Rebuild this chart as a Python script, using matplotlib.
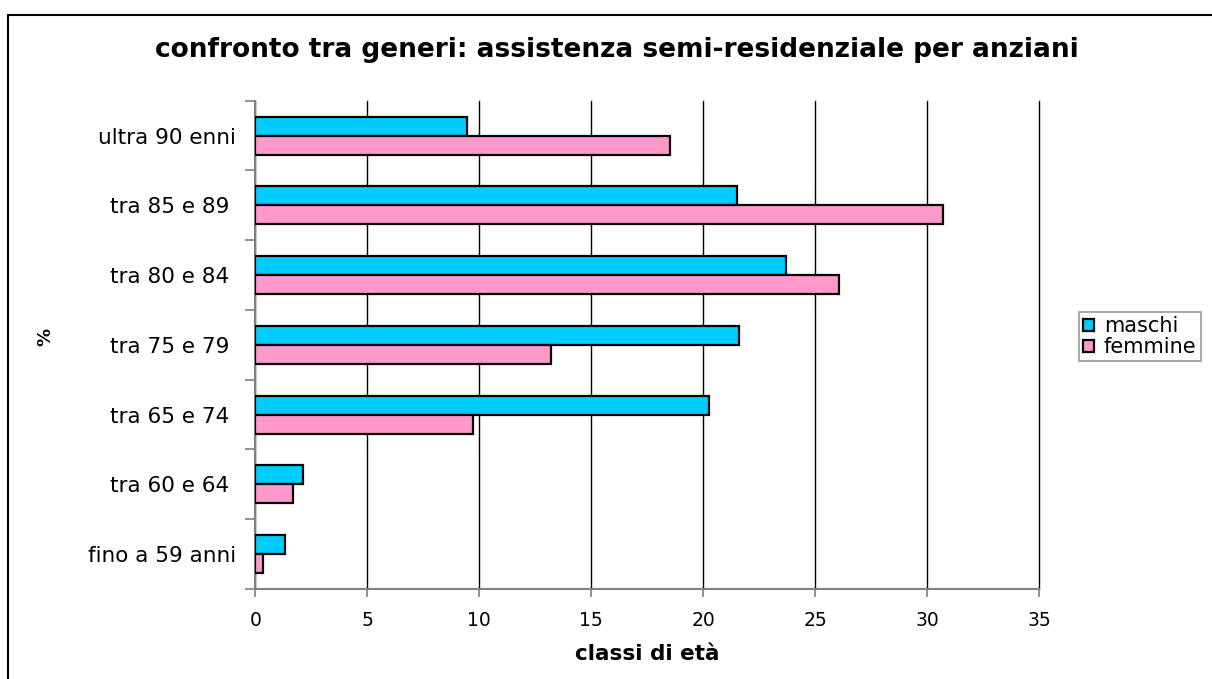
import matplotlib.pyplot as plt
from matplotlib.patches import Rectangle
import numpy as np

plt.rcParams['font.family'] = ['DejaVu Sans']

categories = ['fino a 59 anni', 'tra 60 e 64 ', 'tra 65 e 74 ', 'tra 75 e 79 ',
              'tra 80 e 84 ', 'tra 85 e 89 ', 'ultra 90 enni']
maschi = [1.34, 2.14, 20.25, 21.6, 23.7, 21.5, 9.45]
femmine = [0.33, 1.67, 9.7, 13.2, 26.05, 30.7, 18.5]
x_ticks = [0, 5, 10, 15, 20, 25, 30, 35]

W, H = 1212, 679
fig = plt.figure(figsize=(W / 100, H / 100), dpi=100)
ax = fig.add_axes([255.3 / W, 1 - 589 / H, (1039.3 - 255.3) / W, (589 - 100.7) / H])

y = np.arange(len(categories))
h = 0.273
ax.barh(y + h / 2, maschi, height=h, color='#00CCFF', edgecolor='black',
        linewidth=1.6, label='maschi', zorder=3)
ax.barh(y - h / 2, femmine, height=h, color='#FF99CC', edgecolor='black',
        linewidth=1.6, label='femmine', zorder=3)

ax.set_xlim(0, 35)
ax.set_ylim(-0.5, len(categories) - 0.5)
ax.set_xticks(x_ticks)
ax.set_xticklabels([str(t) for t in x_ticks], fontsize=13.5)
ax.xaxis.grid(True, color='black', linewidth=1.0, zorder=0)
for gl in ax.get_xgridlines():
    gl.set_clip_on(False)

# category labels centred, ticks on boundaries
ax.set_yticks(y)
ax.set_yticklabels(categories, fontsize=15.5)
ax.tick_params(axis='y', length=0, pad=14)
ax.set_yticks(np.arange(-0.5, len(categories)), minor=True)
ax.tick_params(axis='y', which='minor', length=7, color='#808080', width=1.2)
ax.tick_params(axis='x', length=6, color='#808080', width=1.2, pad=10)

for side in ['top', 'right']:
    ax.spines[side].set_visible(False)
for side in ['left', 'bottom']:
    ax.spines[side].set_color('#808080')
    ax.spines[side].set_linewidth(1.5)

ax.set_xlabel('classi di età', fontsize=15.5, fontweight='bold', labelpad=10)
fig.text(45 / W, 1 - 337 / H, '%', rotation=90, fontsize=13, fontweight='bold',
         ha='center', va='center')

fig.text(617 / W, 1 - 50 / H, 'confronto tra generi: assistenza semi-residenziale per anziani',
         fontsize=19, fontweight='bold', ha='center', va='center')

leg = fig.legend(loc='upper left', bbox_to_anchor=(1079 / W, 1 - 312 / H),
                 fontsize=15, frameon=True, fancybox=False, borderpad=0.2,
                 handlelength=0.5, handleheight=0.5, handletextpad=0.5,
                 labelspacing=0.05, borderaxespad=0)
leg.get_frame().set_edgecolor('#808080')
leg.get_frame().set_linewidth(1.2)

# outer chart frame
fig.patches.append(Rectangle((7.5 / W, -0.05), 1.1, 1 - 15 / H + 0.05,
                             transform=fig.transFigure, fill=False,
                             edgecolor='black', linewidth=1.5))

fig.savefig('out.png', dpi=100)
